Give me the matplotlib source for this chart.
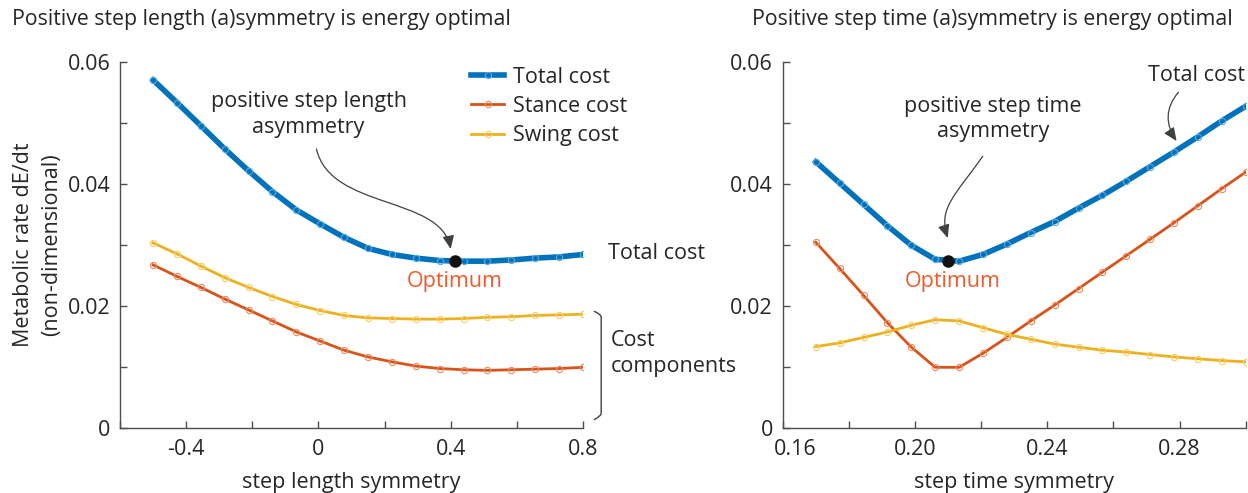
import numpy as np
import matplotlib
matplotlib.use("Agg")
import matplotlib.pyplot as plt
from matplotlib.path import Path
from matplotlib.patches import FancyArrowPatch, PathPatch
from matplotlib.transforms import ScaledTranslation

plt.rcParams['font.family'] = ['Open Sans', 'DejaVu Sans']

# ---- step length sweep ----
len_sym = np.linspace(-0.5, 0.8, 19)
len_total = [0.0570, 0.0533, 0.0495, 0.0457, 0.0421, 0.0387, 0.0357, 0.0334, 0.0312,
             0.0294, 0.0284, 0.0278, 0.0274, 0.0273, 0.0273, 0.0275, 0.0278, 0.0280, 0.0284]
len_stance = [0.0267, 0.0248, 0.0230, 0.0211, 0.0193, 0.0175, 0.0157, 0.0142, 0.0127,
              0.0116, 0.0108, 0.0101, 0.0097, 0.0095, 0.0094, 0.0095, 0.0096, 0.0097, 0.0099]
len_swing = [0.0303, 0.0285, 0.0265, 0.0246, 0.0230, 0.0215, 0.0202, 0.0192, 0.0184,
             0.0180, 0.0179, 0.0178, 0.0178, 0.0179, 0.0181, 0.0182, 0.0184, 0.0185, 0.0186]
len_opt = (0.412, 0.0273)

# ---- step time sweep ----
time_sym = np.linspace(0.17, 0.30, 19)
time_total = [0.0436, 0.0401, 0.0366, 0.0331, 0.0299, 0.0276, 0.0273, 0.0284, 0.0301,
              0.0320, 0.0338, 0.0360, 0.0381, 0.0404, 0.0428, 0.0452, 0.0477, 0.0503, 0.0527]
time_stance = [0.0304, 0.0261, 0.0217, 0.0172, 0.0132, 0.0099, 0.0099, 0.0122, 0.0148,
               0.0175, 0.0201, 0.0228, 0.0255, 0.0282, 0.0309, 0.0336, 0.0364, 0.0392, 0.0419]
time_swing = [0.0133, 0.0139, 0.0148, 0.0157, 0.0168, 0.0177, 0.0175, 0.0164, 0.0153,
              0.0145, 0.0137, 0.0132, 0.0127, 0.0124, 0.0120, 0.0116, 0.0113, 0.0110, 0.0108]
time_opt = (0.210, 0.0273)

len_xticks = [-0.6, -0.4, -0.2, 0, 0.2, 0.4, 0.6, 0.8]
len_xlabels = ['', '-0.4', '', '0', '', '0.4', '', '0.8']
time_xticks = [0.16, 0.18, 0.20, 0.22, 0.24, 0.26, 0.28, 0.30]
time_xlabels = ['0.16', '', '0.20', '', '0.24', '', '0.28', '']
yticks = [0, 0.01, 0.02, 0.03, 0.04, 0.05, 0.06]
ylabels = ['0', '', '0.02', '', '0.04', '', '0.06']

BLUE, RED, YEL = '#0072BD', '#D95319', '#EDB120'
BLUE_M, RED_M, YEL_M = '#5AA9DE', '#F08A62', '#F5CF6A'
OPT_COL = '#F05A28'
TXT = '#262626'

fig = plt.figure(figsize=(12.48, 4.93), dpi=100)
axL = fig.add_axes([120 / 1248, 1 - 427.7 / 493, 463 / 1248, 366 / 493])
axR = fig.add_axes([782.7 / 1248, 1 - 427.7 / 493, 463 / 1248, 366 / 493])

FS = 15.5
TITLE_FS = 15.3


def style(ax, xlim, xticks, xlabels, xlabel):
    ax.set_xlim(*xlim)
    ax.set_ylim(0, 0.06)
    for s in ('top', 'right'):
        ax.spines[s].set_visible(False)
    for s in ('left', 'bottom'):
        ax.spines[s].set_color('#4d4d4d')
        ax.spines[s].set_linewidth(1.0)
    ax.set_xticks(xticks, xlabels)
    ax.set_yticks(yticks, ylabels)
    ax.tick_params(direction='in', length=5, width=1, color='#4d4d4d',
                   labelsize=FS, labelcolor=TXT)
    ax.tick_params(axis='x', pad=8)
    ax.tick_params(axis='y', pad=7)
    ax.set_xlabel(xlabel, fontsize=FS, color=TXT, labelpad=9)
    ax.patch.set_alpha(0)


def draw_series(ax, x, total, stance, swing):
    kw = dict(marker='o', markersize=4.5, markerfacecolor='none', markeredgewidth=0.8)
    ax.plot(x, stance, color=RED, lw=2.0, markeredgecolor=RED_M, label='Stance cost', **kw)
    ax.plot(x, swing, color=YEL, lw=2.0, markeredgecolor=YEL_M, label='Swing cost', **kw)
    ax.plot(x, total, color=BLUE, lw=4.0, markeredgecolor=BLUE_M, label='Total cost', **kw)


def curved_arrow(ax, pts):
    path = Path(pts, [Path.MOVETO, Path.CURVE4, Path.CURVE4, Path.CURVE4])
    arr = FancyArrowPatch(path=path, arrowstyle='-|>,head_length=8,head_width=3.5',
                          color='#404040', lw=0.9, transform=ax.transData,
                          clip_on=False, mutation_scale=1)
    ax.add_patch(arr)


# ---- left panel ----
style(axL, (-0.6, 0.8), len_xticks, len_xlabels, 'step length symmetry')
draw_series(axL, len_sym, len_total, len_stance, len_swing)
axL.plot(*len_opt, 'o', color='#111111', markersize=8, zorder=5)
axL.set_ylabel('Metabolic rate dE/dt\n(non-dimensional)', fontsize=FS, color=TXT,
               labelpad=4, linespacing=1.45)
fig.text(12 / 1248, 1 - 20 / 493, 'Positive step length (a)symmetry is energy optimal',
         fontsize=TITLE_FS, color=TXT, ha='left', va='center')

h, l = axL.get_legend_handles_labels()
order = [2, 0, 1]
axL.legend([h[i] for i in order], [l[i] for i in order], loc='upper left',
           bbox_to_anchor=(0.758, 0.986), frameon=False, fontsize=FS,
           handlelength=1.55, handletextpad=0.42, labelspacing=0.38,
           borderpad=0, borderaxespad=0, labelcolor=TXT)

axL.text(-0.030, 0.0513, 'positive step length\nasymmetry', fontsize=FS, color=TXT,
         ha='center', va='center', linespacing=1.3)
curved_arrow(axL, [(-0.006, 0.0457), (0.036, 0.0357), (0.370, 0.0381), (0.400, 0.0293)])
axL.text(0.412, 0.0240, 'Optimum', fontsize=FS, color=OPT_COL, ha='center', va='center')
axL.text(0.876, 0.0286, 'Total cost', fontsize=FS, color=TXT, ha='left', va='center',
         clip_on=False)
axL.text(0.885, 0.0121, 'Cost\ncomponents', fontsize=FS, color=TXT, ha='left',
         va='center', clip_on=False, linespacing=1.3)
bracket = Path([(0.833, 0.0191), (0.855, 0.0186), (0.855, 0.0181), (0.855, 0.0024),
                (0.855, 0.0019), (0.833, 0.0013)],
               [Path.MOVETO, Path.CURVE3, Path.CURVE3, Path.LINETO, Path.CURVE3, Path.CURVE3])
axL.add_patch(PathPatch(bracket, fill=False, edgecolor='#404040', lw=1.0, clip_on=False))

# ---- right panel ----
style(axR, (0.16, 0.30), time_xticks, time_xlabels, 'step time symmetry')
draw_series(axR, time_sym, time_total, time_stance, time_swing)
axR.plot(*time_opt, 'o', color='#111111', markersize=8, zorder=5)
# nudge the first x label clear of the y-axis "0"
first = axR.xaxis.get_major_ticks()[0].label1
first.set_transform(first.get_transform() + ScaledTranslation(0.12, 0, fig.dpi_scale_trans))
fig.text(752 / 1248, 1 - 20 / 493, 'Positive step time (a)symmetry is energy optimal',
         fontsize=TITLE_FS, color=TXT, ha='left', va='center')
axR.text(0.2235, 0.0506, 'positive step time\nasymmetry', fontsize=FS, color=TXT,
         ha='center', va='center', linespacing=1.3)
curved_arrow(axR, [(0.2205, 0.0445), (0.2120, 0.0380), (0.2070, 0.0360), (0.2099, 0.0311)])
axR.text(0.2114, 0.0240, 'Optimum', fontsize=FS, color=OPT_COL, ha='center', va='center')
axR.text(0.2852, 0.0577, 'Total cost', fontsize=FS, color=TXT, ha='center', va='center',
         clip_on=False)
curved_arrow(axR, [(0.2797, 0.0550), (0.2755, 0.0524), (0.2758, 0.0496), (0.2791, 0.0470)])

fig.savefig('out.png', dpi=100)
